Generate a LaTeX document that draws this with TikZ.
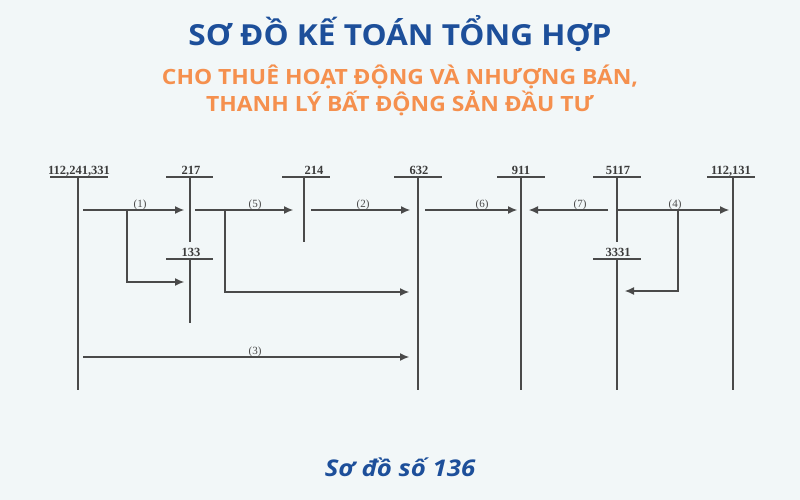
\documentclass[tikz,border=0pt]{standalone}
\usepackage{fontspec}
\setmainfont{Liberation Serif}
\newfontfamily\headfont[FakeStretch=1.09]{Open Sans}
\newfontfamily\capfont[FakeStretch=1.12]{Open Sans}
\usetikzlibrary{arrows.meta}
\definecolor{bg}{HTML}{F2F7F8}
\definecolor{titleblue}{HTML}{1D4F9A}
\definecolor{suborange}{HTML}{F5904E}
\definecolor{ink}{HTML}{4A4A4A}
\begin{document}
\begin{tikzpicture}[x=1pt,y=-1pt,
  acct/.style={font=\bfseries\fontsize{12.5}{13}\selectfont, inner sep=0pt, anchor=base, text=ink!80!black},
  tline/.style={ink, line width=1.3pt},
  flow/.style={ink, line width=1.1pt, -{Latex[length=9pt,width=8pt]}},
  num/.style={font=\fontsize{11}{12}\selectfont, inner sep=0pt, anchor=base, text=ink},
  headline/.style={inner sep=0pt, anchor=base}]
\fill[bg] (0,0) rectangle (800,500);
\useasboundingbox (0,0) rectangle (800,500);

% titles
\node[headline, font=\headfont\bfseries\fontsize{29}{32}\selectfont, text=titleblue] (title) at (400,46) {SƠ ĐỒ KẾ TOÁN TỔNG HỢP};
\node[headline, font=\headfont\bfseries\fontsize{21}{24}\selectfont, text=suborange] (sub1) at (400,85) {CHO THUÊ HOẠT ĐỘNG VÀ NHƯỢNG BÁN,};
\node[headline, font=\headfont\bfseries\fontsize{21}{24}\selectfont, text=suborange] (sub2) at (400,112) {THANH LÝ BẤT ĐỘNG SẢN ĐẦU TƯ};
\node[headline, font=\capfont\bfseries\itshape\fontsize{23}{26}\selectfont, text=titleblue] (caption) at (400,476) {Sơ đồ số 136};

% T-accounts
\node[acct] (a112) at (79,174) {112,241,331};
\coordinate (a112t) at (78,177); \coordinate (a112b) at (78,390);
\draw[tline] (50,177) -- (108,177);
\draw[tline] (a112t) -- (a112b);

\node[acct] (a217) at (191,174) {217};
\coordinate (a217t) at (190,177); \coordinate (a217b) at (190,242);
\draw[tline] (166,177) -- (213,177);
\draw[tline] (a217t) -- (a217b);

\node[acct] (a133) at (191,256) {133};
\coordinate (a133t) at (190,259); \coordinate (a133b) at (190,323);
\draw[tline] (166,259) -- (213,259);
\draw[tline] (a133t) -- (a133b);

\node[acct] (a214) at (314,174) {214};
\coordinate (a214t) at (304,177); \coordinate (a214b) at (304,242);
\draw[tline] (282,177) -- (330,177);
\draw[tline] (a214t) -- (a214b);

\node[acct] (a632) at (419,174) {632};
\coordinate (a632t) at (418,177); \coordinate (a632b) at (418,390);
\draw[tline] (394,177) -- (442,177);
\draw[tline] (a632t) -- (a632b);

\node[acct] (a911) at (521,174) {911};
\coordinate (a911t) at (521,177); \coordinate (a911b) at (521,390);
\draw[tline] (497,177) -- (545,177);
\draw[tline] (a911t) -- (a911b);

\node[acct] (a5117) at (618,174) {5117};
\coordinate (a5117t) at (617,177); \coordinate (a5117b) at (617,242);
\draw[tline] (593,177) -- (641,177);
\draw[tline] (a5117t) -- (a5117b);

\node[acct] (a3331) at (618,256) {3331};
\coordinate (a3331t) at (617,259); \coordinate (a3331b) at (617,390);
\draw[tline] (593,259) -- (641,259);
\draw[tline] (a3331t) -- (a3331b);

\node[acct] (a131) at (731,174) {112,131};
\coordinate (a131t) at (733,177); \coordinate (a131b) at (733,390);
\draw[tline] (707,177) -- (755,177);
\draw[tline] (a131t) -- (a131b);

% flows
% (1)
\coordinate (f1s) at (83,210); \coordinate (f1e) at (184,210);
\coordinate (f1k) at (127,210); \coordinate (f1d) at (127,282); \coordinate (f1f) at (184,282);
\draw[flow] (f1s) -- (f1e);
\draw[flow] (f1k) -- (f1d) -- (f1f);
\node[num] (n1) at (140,207) {(1)};

% (5)
\coordinate (f5s) at (195,210); \coordinate (f5e) at (293,210);
\coordinate (f5k) at (225,210); \coordinate (f5d) at (225,292); \coordinate (f5f) at (409,292);
\draw[flow] (f5s) -- (f5e);
\draw[flow] (f5k) -- (f5d) -- (f5f);
\node[num] (n5) at (255,207) {(5)};

% (2)
\coordinate (f2s) at (311,210); \coordinate (f2e) at (410,210);
\draw[flow] (f2s) -- (f2e);
\node[num] (n2) at (363,207) {(2)};

% (6)
\coordinate (f6s) at (425,210); \coordinate (f6e) at (517,210);
\draw[flow] (f6s) -- (f6e);
\node[num] (n6) at (482,207) {(6)};

% (7)
\coordinate (f7s) at (608,210); \coordinate (f7e) at (529,210);
\draw[flow] (f7s) -- (f7e);
\node[num] (n7) at (580,207) {(7)};

% (4)
\coordinate (f4s) at (617,210); \coordinate (f4e) at (729,210);
\coordinate (f4k) at (678,210); \coordinate (f4d) at (678,291); \coordinate (f4f) at (625,291);
\draw[flow] (f4s) -- (f4e);
\draw[flow] (f4k) -- (f4d) -- (f4f);
\node[num] (n4) at (675,207) {(4)};

% (3)
\coordinate (f3s) at (83,357); \coordinate (f3e) at (409,357);
\draw[flow] (f3s) -- (f3e);
\node[num] (n3) at (255,354) {(3)};
\end{tikzpicture}
\end{document}
